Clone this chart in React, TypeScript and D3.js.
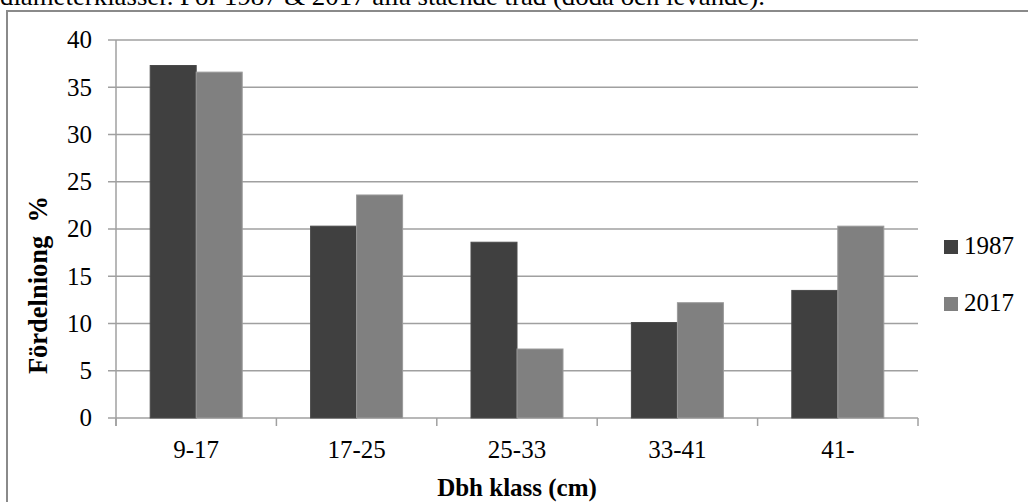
import React from "react";
import * as d3 from "d3";

const categories = ["9-17", "17-25", "25-33", "33-41", "41-"];
const series1987 = [37.3, 20.3, 18.6, 10.1, 13.5];
const series2017 = [36.6, 23.6, 7.3, 12.2, 20.3];
const seriesNames = ["1987", "2017"];
const yTicks = [0, 5, 10, 15, 20, 25, 30, 35, 40];
const titleText = "diameterklasser. För 1987 & 2017 alla stående träd (döda och levande).";
const yTitle = "Fördelniong  %";
const xTitle = "Dbh klass (cm)";

const W = 1028;
const H = 502;
const colors = ["#404040", "#808080"];
const font = "'Liberation Serif', 'Times New Roman', serif";

export default function App() {
  const left = 116, right = 918, top = 40, bottom = 418;
  const x = d3.scaleBand<string>().domain(categories).range([left, right]).paddingInner(0).paddingOuter(0);
  const y = d3.scaleLinear().domain([0, 40]).range([bottom, top]);
  const bw = x.bandwidth();
  const barW = bw * 0.2868;
  const inner = d3.scaleBand<string>().domain(seriesNames).range([0, barW * 2]);
  const data = [series1987, series2017];
  const gridColor = "#a0a0a0";
  const tickEdges = [...categories.map((c) => x(c)!), right];

  return (
    <svg width={W} height={H} style={{ position: "absolute", left: 0, top: 0, background: "#fff" }} fontFamily={font}>
      <text x={0} y={5} fontSize={25} textLength={765} lengthAdjust="spacingAndGlyphs" fill="#000">{titleText}</text>
      <rect x={7} y={11} width={1100} height={600} fill="none" stroke="#8a8a8a" strokeWidth={2} />
      {yTicks.map((t) => (
        <g key={t}>
          <line x1={left - 8} x2={right} y1={y(t)} y2={y(t)} stroke={gridColor} strokeWidth={1.5} />
          <text x={92} y={y(t)} dy="0.33em" textAnchor="end" fontSize={25} fill="#000">{t}</text>
        </g>
      ))}
      <line x1={left} x2={left} y1={top} y2={bottom + 8} stroke={gridColor} strokeWidth={1.5} />
      {tickEdges.map((tx, i) => (
        <line key={i} x1={tx} x2={tx} y1={bottom} y2={bottom + 8} stroke={gridColor} strokeWidth={1.5} />
      ))}
      {categories.map((c, ci) => {
        const cx = x(c)! + bw / 2;
        return (
          <g key={c}>
            {data.map((s, si) => (
              <rect
                key={si}
                x={cx - barW + inner(seriesNames[si])!}
                y={y(s[ci])}
                width={inner.bandwidth()}
                height={y(0) - y(s[ci])}
                fill={colors[si]}
                stroke={si === 0 ? "#4a4a4a" : "#9a9a9a"}
                strokeWidth={1}
              />
            ))}
            <text x={cx} y={458} textAnchor="middle" fontSize={25} fill="#000">{c}</text>
          </g>
        );
      })}
      <text x={(left + right) / 2} y={496} textAnchor="middle" fontSize={25} fontWeight="bold" fill="#000">{xTitle}</text>
      <text transform={`translate(47, ${285}) rotate(-90)`} textAnchor="middle" fontSize={26.5} fontWeight="bold" fill="#000" style={{ whiteSpace: "pre" }}>{yTitle}</text>
      {seriesNames.map((n, i) => (
        <g key={n}>
          <rect x={944} y={240 + i * 57} width={14} height={14} fill={colors[i]} />
          <text x={964} y={254 + i * 57} fontSize={25} fill="#000">{n}</text>
        </g>
      ))}
    </svg>
  );
}
